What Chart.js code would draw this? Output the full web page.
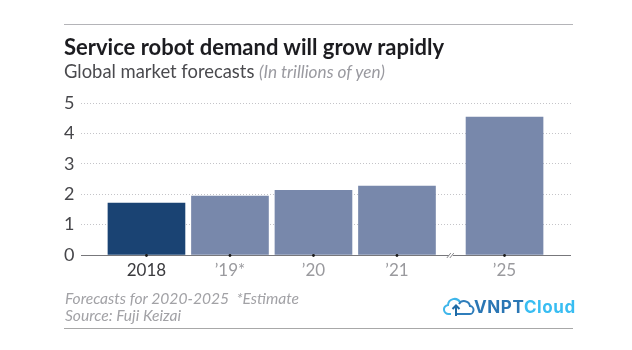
<!DOCTYPE html>
<html><head><meta charset="utf-8">
<script src="https://cdn.jsdelivr.net/npm/chart.js@4"></script>
<style>
html,body{margin:0;padding:0;background:#fff;}
#wrap{position:relative;width:632px;height:350px;overflow:hidden;font-family:Lato,sans-serif;}
canvas{position:absolute;left:0;top:0;}
.t{position:absolute;white-space:nowrap;}
.rule{position:absolute;left:64px;width:509px;height:1px;}
</style></head><body>
<div id="wrap">
<canvas id="c" width="632" height="350"></canvas>
<div class="rule" style="top:24px;background:#b4b4b8"></div>
<div class="rule" style="top:328px;background:#a8a8a8"></div>
<div class="t" style="left:64px;top:34px;font-size:22px;font-weight:700;color:#1c1c20;line-height:26px">Service robot demand will grow rapidly</div>
<div class="t" style="left:64px;top:60px;font-size:18.4px;color:#4a4a4e;line-height:22px">Global market forecasts <span style="font-style:italic;color:#9a9aa0;font-size:17.2px">(In trillions of yen)</span></div>
<div class="t" style="left:65px;top:290px;font-size:15.6px;font-style:italic;color:#a2a2a6;line-height:17px">Forecasts for 2020-2025&nbsp; *Estimate<br>Source: Fuji Keizai</div>
<svg style="position:absolute;left:443px;top:297px" width="36" height="20" viewBox="0 0 36 20" fill="none" stroke-width="2">
<path d="M8 17H6a4.500 4.500 0 0 1-1-9 6.500 6.500 0 0 1 12-3" stroke="#3fb6ea"/>
<path d="M12 17h14a4 4 0 0 0 1-8 6 6 0 0 0-11-2" stroke="#2f7dbb"/>
<path d="M13 19V9m-3.500 3L13 8.500 16.500 12" stroke="#1f6aa5"/>
</svg>
<div class="t" style="left:474px;top:296px;font-size:17px;font-weight:700;letter-spacing:.6px;line-height:22px;font-family:Inter,sans-serif"><span style="color:#2a76b4">VNPT</span><span style="color:#38bdf2">Cloud</span></div>
</div>
<script>
const categories = ["2018", "\u201919*", "\u201920", "\u201921", "\u201925"];
const values = [1.71, 1.94, 2.13, 2.27, 4.54];
const slots = [0, 1, 2, 3, 4.288];
const barColors = ["#1a4373", "#7888ab", "#7888ab", "#7888ab", "#7888ab"];
const tickColors = ["#3a3a3e", "#9a9a9e", "#9a9a9e", "#9a9a9e", "#9a9a9e"];
const yTicks = [0, 1, 2, 3, 4, 5];
const axisBreak = 3.645;

const decorations = {
  id: "decorations",
  afterDatasetsDraw(chart) {
    const { ctx, scales: { x, y } } = chart;
    const base = Math.round(y.getPixelForValue(0));
    ctx.save();
    ctx.strokeStyle = "#77777b"; ctx.lineWidth = 1;
    ctx.beginPath(); ctx.moveTo(x.left, base + .5); ctx.lineTo(x.right, base + .5); ctx.stroke();
    ctx.fillStyle = "#1a1a1a";
    slots.forEach(s => { ctx.beginPath(); ctx.arc(x.getPixelForValue(s), base + .5, 1.4, 0, 7); ctx.fill(); });
    const bx = x.getPixelForValue(axisBreak);
    ctx.fillStyle = "#fff"; ctx.fillRect(bx - 2, base - 2, 4, 5);
    ctx.strokeStyle = "#8a8a8e";
    [-2, 1].forEach(d => { ctx.beginPath(); ctx.moveTo(bx + d - 2, base + 3); ctx.lineTo(bx + d + 2, base - 2); ctx.stroke(); });
    ctx.restore();
  }
};

new Chart(document.getElementById("c"), {
  type: "bar",
  data: { datasets: [{
    data: slots.map((s, i) => ({ x: s, y: values[i] })),
    backgroundColor: barColors,
    barThickness: 77,
    borderWidth: 0
  }]},
  options: {
    responsive: false, animation: false,
    layout: { padding: { left: 64, right: 61, top: 103, bottom: 63 } },
    plugins: { legend: { display: false }, tooltip: { enabled: false } },
    scales: {
      x: {
        type: "linear", offset: false, min: -0.784, max: 5.084,
        afterBuildTicks(a) { a.ticks = slots.map(v => ({ value: v })); },
        afterFit(a) { a.height = 32; },
        grid: { display: false },
        border: { display: false },
        ticks: {
          autoSkip: false, maxRotation: 0, padding: -3,
          font: { family: "Lato", size: 17 },
          color: c => tickColors[slots.indexOf(c.tick.value)],
          callback: v => categories[slots.indexOf(v)]
        }
      },
      y: {
        min: 0, max: 5,
        afterBuildTicks(a) { a.ticks = yTicks.map(v => ({ value: v })); },
        grid: { drawTicks: false, color: "#c4c4c8", lineWidth: 1, tickLength: 0 },
        border: { display: false, dash: [1, 2] },
        afterFit(a) { a.width = 17; },
        ticks: {
          padding: 5, align: "center", crossAlign: "far",
          font: { family: "Lato", size: 18 }, color: "#46464a"
        }
      }
    }
  },
  plugins: [decorations]
});
</script>
</body></html>
